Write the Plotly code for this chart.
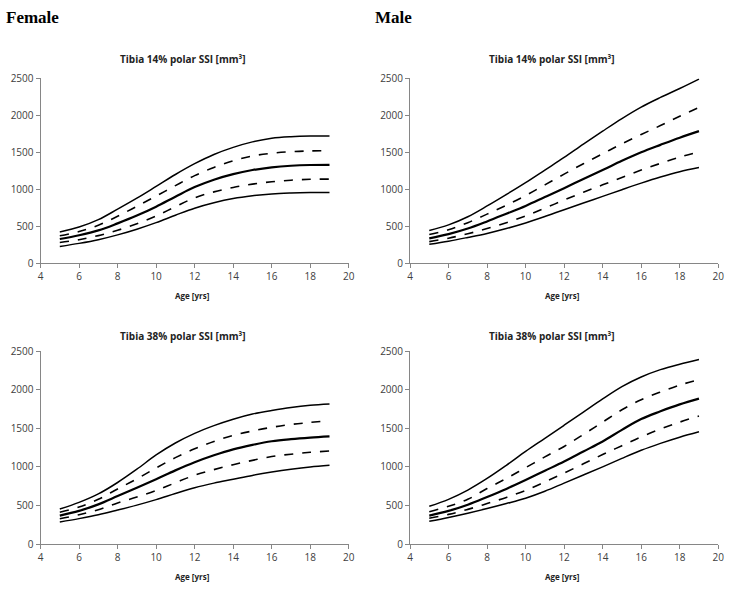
import plotly.graph_objects as go

ages = [5, 6, 7, 8, 9, 10, 11, 12, 13, 14, 15, 16, 17, 18, 19]

# Female, Tibia 14%
f14_p97 = [425, 490, 590, 732, 880, 1039, 1200, 1346, 1470, 1566, 1640, 1689, 1710, 1719, 1720]
f14_p90 = [373, 430, 515, 636, 770, 908, 1050, 1185, 1295, 1385, 1450, 1487, 1508, 1518, 1520]
f14_p50 = [329, 380, 445, 540, 645, 765, 900, 1030, 1130, 1205, 1260, 1297, 1318, 1328, 1330]
f14_p10 = [281, 320, 375, 447, 535, 640, 765, 885, 965, 1025, 1070, 1102, 1123, 1135, 1137]
f14_p03 = [228, 270, 320, 385, 462, 550, 650, 745, 818, 875, 913, 938, 950, 956, 958]

# Male, Tibia 14%
m14_p97 = [445, 520, 630, 775, 930, 1090, 1260, 1430, 1610, 1785, 1955, 2110, 2240, 2360, 2487]
m14_p90 = [390, 455, 550, 665, 785, 915, 1060, 1205, 1345, 1480, 1615, 1740, 1860, 1985, 2105]
m14_p50 = [338, 395, 470, 566, 670, 776, 895, 1015, 1140, 1260, 1385, 1500, 1600, 1697, 1785]
m14_p10 = [294, 340, 400, 470, 550, 640, 745, 855, 960, 1060, 1160, 1259, 1350, 1434, 1505]
m14_p03 = [259, 300, 350, 404, 470, 545, 632, 725, 815, 905, 995, 1083, 1165, 1237, 1294]

# Female, Tibia 38%
f38_p97 = [454, 540, 650, 798, 970, 1155, 1310, 1435, 1535, 1618, 1685, 1731, 1770, 1798, 1815]
f38_p90 = [412, 480, 580, 714, 845, 987, 1120, 1235, 1330, 1408, 1465, 1513, 1550, 1576, 1600]
f38_p50 = [370, 430, 515, 622, 730, 840, 955, 1060, 1150, 1227, 1285, 1332, 1360, 1380, 1395]
f38_p10 = [328, 380, 445, 534, 610, 693, 795, 892, 965, 1029, 1085, 1134, 1165, 1189, 1206]
f38_p03 = [286, 330, 380, 441, 505, 576, 655, 730, 790, 840, 890, 933, 970, 1000, 1021]

# Male, Tibia 38%
m38_p97 = [490, 580, 700, 850, 1020, 1200, 1370, 1540, 1710, 1880, 2040, 2165, 2260, 2330, 2390]
m38_p90 = [420, 490, 580, 720, 850, 990, 1130, 1265, 1420, 1580, 1740, 1870, 1970, 2060, 2130]
m38_p50 = [370, 430, 510, 610, 715, 830, 950, 1070, 1200, 1330, 1480, 1620, 1720, 1810, 1885]
m38_p10 = [335, 385, 450, 525, 605, 695, 805, 920, 1040, 1160, 1275, 1390, 1490, 1580, 1660]
m38_p03 = [295, 345, 400, 460, 525, 595, 685, 790, 895, 1000, 1110, 1215, 1305, 1385, 1455]

panel_titles = ["Tibia 14% polar SSI [mm³]", "Tibia 14% polar SSI [mm³]",
                "Tibia 38% polar SSI [mm³]", "Tibia 38% polar SSI [mm³]"]
sex_titles = ["Female", "Male"]
x_title = "Age [yrs]"
x_ticks = [4, 6, 8, 10, 12, 14, 16, 18, 20]
y_ticks = [0, 500, 1000, 1500, 2000, 2500]

W, H = 743, 594
# plot areas in pixels: (left, right, top, bottom), title pixel y
areas = [(38, 350, 72, 262), (412, 724, 72, 262), (38, 350, 352, 550), (412, 724, 352, 550)]
title_y = [52, 52, 337, 337]
xlabel_y = [295, 295, 583, 583]
panels = [
    [f14_p97, f14_p90, f14_p50, f14_p10, f14_p03],
    [m14_p97, m14_p90, m14_p50, m14_p10, m14_p03],
    [f38_p97, f38_p90, f38_p50, f38_p10, f38_p03],
    [m38_p97, m38_p90, m38_p50, m38_p10, m38_p03],
]
styles = [("solid", 1.5), ("dash", 1.6), ("solid", 2.2), ("dash", 1.6), ("solid", 1.5)]

fig = go.Figure()
layout = dict(width=W, height=H, margin=dict(l=0, r=0, t=0, b=0),
              paper_bgcolor="white", plot_bgcolor="white", showlegend=False)
annotations = []
sans = "Open Sans, Liberation Sans, sans-serif"
tickfont = dict(family=sans, size=10, color="#404040")

for i, (area, curves) in enumerate(zip(areas, panels)):
    l, r, t, b = area
    xa = "xaxis" if i == 0 else f"xaxis{i+1}"
    ya = "yaxis" if i == 0 else f"yaxis{i+1}"
    xref = "x" if i == 0 else f"x{i+1}"
    yref = "y" if i == 0 else f"y{i+1}"
    for vals, (dash, w) in zip(curves, styles):
        fig.add_trace(go.Scatter(x=ages, y=vals, mode="lines", xaxis=xref, yaxis=yref,
                                 line=dict(color="black", width=w, dash=dash, shape="spline",
                                           smoothing=1.0),
                                 hoverinfo="skip"))
    layout[xa] = dict(domain=[l / W, r / W], range=[4, 20], tickvals=x_ticks,
                      showline=True, linecolor="#868686", linewidth=1, ticks="outside",
                      tickcolor="#868686", ticklen=4, showgrid=False, zeroline=False,
                      tickfont=tickfont, anchor=yref, fixedrange=True)
    layout[ya] = dict(domain=[1 - b / H, 1 - t / H], range=[0, 2500], tickvals=y_ticks,
                      showline=True, linecolor="#868686", linewidth=1, ticks="outside",
                      tickcolor="#868686", ticklen=4, showgrid=False, zeroline=False,
                      tickfont=tickfont, anchor=xref, fixedrange=True)
    annotations.append(dict(text="<b>" + panel_titles[i] + "</b>", xref="paper", yref="paper",
                            x=((l + r) / 2 - 12) / W, y=1 - title_y[i] / H,
                            xanchor="center", yanchor="middle", showarrow=False,
                            font=dict(family=sans, size=10, color="#222")))
    annotations.append(dict(text="<b>" + x_title + "</b>", xref="paper", yref="paper",
                            x=((l + r) / 2 - 2) / W, y=1 - xlabel_y[i] / H,
                            xanchor="center", yanchor="middle", showarrow=False,
                            font=dict(family=sans, size=8, color="#222")))

for txt, px in zip(sex_titles, [1, 375]):
    annotations.append(dict(text="<b>" + txt + "</b>", xref="paper", yref="paper",
                            x=px / W, y=1 - 10 / H, xanchor="left", yanchor="middle",
                            showarrow=False,
                            font=dict(family="Liberation Serif, serif", size=17, color="black")))
layout["annotations"] = annotations
fig.update_layout(**layout)
fig.write_html("out.html", config={"displayModeBar": False},
               post_script="document.body.style.margin='0';document.body.style.overflow='hidden';")
